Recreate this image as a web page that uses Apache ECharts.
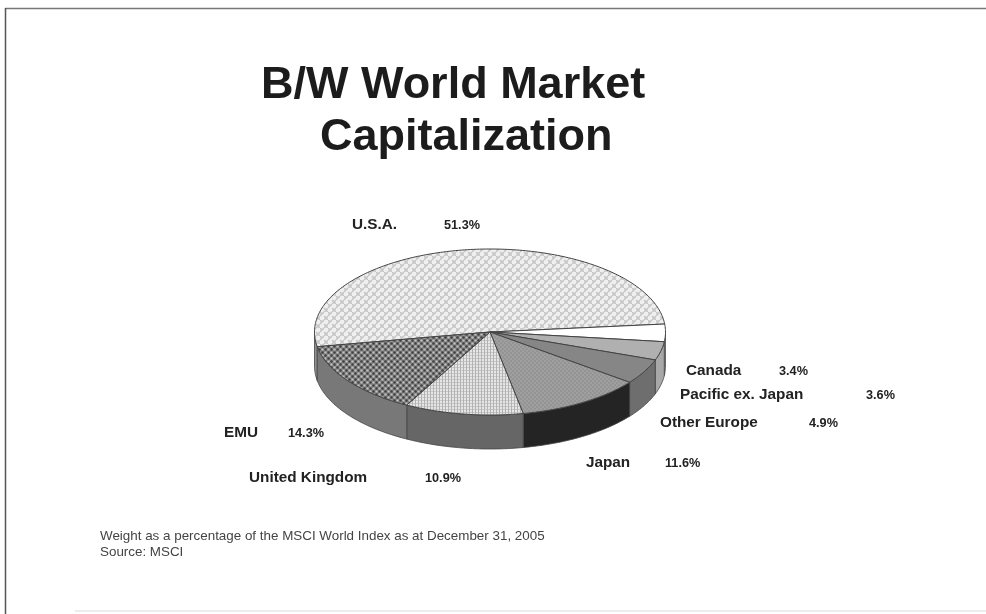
<!DOCTYPE html>
<html>
<head>
<meta charset="utf-8">
<style>html,body{margin:0;padding:0;background:#fff}#chart{width:986px;height:614px}</style>
<script src="https://cdn.jsdelivr.net/npm/echarts@6/dist/echarts.min.js"></script>
</head>
<body>
<div id="chart"></div>
<script>
// Market weights, clockwise from the U.S.A. slice
const names = ['U.S.A.', 'Canada', 'Pacific ex. Japan', 'Other Europe', 'Japan', 'United Kingdom', 'EMU'];
const weights = [51.3, 3.4, 3.6, 4.9, 11.6, 10.9, 14.3];
const titleLines = ['B/W World Market', 'Capitalization'];
const noteLines = ['Weight as a percentage of the MSCI World Index as at December 31, 2005', 'Source: MSCI'];

// Disc geometry: tilted ellipse plus rim depth, first slice starts left of the top
const disc = { cx: 490, cy: 332, rx: 175.5, ry: 83, depth: 34, startClock: -100.2 };

// Label anchors [name x, value x, y], in the same order as names
const labelAnchors = [
  [352, 444, 225], [686, 779, 371], [680, 866, 395], [660, 809, 423],
  [586, 665, 463], [249, 425, 478], [224, 288, 433]
];

function tile(size, draw) {
  const c = document.createElement('canvas');
  c.width = c.height = size;
  draw(c.getContext('2d'), size);
  return { image: c, repeat: 'repeat' };
}
function dot(g, x, y, r) {
  g.beginPath(); g.arc(x, y, r, 0, Math.PI * 2); g.fill();
}
const weave = tile(8, (g) => {
  g.fillStyle = '#efefef'; g.fillRect(0, 0, 8, 8);
  g.strokeStyle = '#c6c6c6'; g.lineWidth = 1.6;
  g.beginPath();
  g.moveTo(0, 4); g.lineTo(4, 0); g.moveTo(4, 8); g.lineTo(8, 4);
  g.moveTo(4, 4); g.lineTo(8, 8); g.moveTo(0, 0); g.lineTo(2, 2);
  g.stroke();
});
const fineGrid = tile(3, (g) => {
  g.fillStyle = '#e6e6e6'; g.fillRect(0, 0, 3, 3);
  g.fillStyle = '#b2b2b2'; g.fillRect(1, 0, 1, 3); g.fillRect(0, 1, 3, 0.6);
});
const softDots = tile(4, (g) => {
  g.fillStyle = '#949494'; g.fillRect(0, 0, 4, 4);
  g.fillStyle = '#a4a4a4'; dot(g, 1, 1, 0.9); dot(g, 3, 3, 0.9);
});
const checkDots = tile(6, (g) => {
  g.fillStyle = '#858585'; g.fillRect(0, 0, 6, 6);
  g.fillStyle = '#404040'; dot(g, 1.5, 1.5, 1.2); dot(g, 4.5, 4.5, 1.2);
  g.fillStyle = '#c4c4c4'; dot(g, 4.5, 1.5, 1.1); dot(g, 1.5, 4.5, 1.1);
});

const topFills = [weave, '#ffffff', '#b0b0b0', '#868686', softDots, fineGrid, checkDots];
const wallFills = ['#909090', '#e8e8e8', '#a8a8a8', '#6e6e6e', '#242424', '#666666', '#787878'];

const total = weights.reduce((a, b) => a + b, 0);
function spanOf(i) {
  let before = 0;
  for (let k = 0; k < i; k++) before += weights[k];
  const from = disc.startClock + before / total * 360;
  return [from, from + weights[i] / total * 360];
}
function rimPoint(clock, drop) {
  const t = clock * Math.PI / 180;
  return [disc.cx + disc.rx * Math.sin(t), disc.cy - disc.ry * Math.cos(t) + drop];
}
function arcPoints(from, to, drop) {
  const pts = [], n = Math.max(2, Math.ceil(Math.abs(to - from)));
  for (let k = 0; k <= n; k++) pts.push(rimPoint(from + (to - from) * k / n, drop));
  return pts;
}

function renderSlice(params, api) {
  const i = params.dataIndex;
  const [from, to] = spanOf(i);
  const children = [];
  // Only the front half of the rim (clock 90 to 270) is visible
  [[from, to], [from + 360, to + 360], [from - 360, to - 360]].forEach(([a, b]) => {
    const lo = Math.max(a, 90), hi = Math.min(b, 270);
    if (hi > lo) {
      children.push({
        type: 'polygon',
        shape: { points: arcPoints(lo, hi, 0).concat(arcPoints(hi, lo, disc.depth)) },
        style: { fill: wallFills[i], stroke: '#444444', lineWidth: 0.8 }
      });
    }
  });
  children.push({
    type: 'polygon',
    shape: { points: [[disc.cx, disc.cy]].concat(arcPoints(from, to, 0)) },
    style: { fill: topFills[i], stroke: '#444444', lineWidth: 1 }
  });
  return { type: 'group', children };
}

const labelGraphics = [];
names.forEach((n, i) => {
  const [nx, vx, y] = labelAnchors[i];
  labelGraphics.push({ type: 'text', x: nx, y, style: {
    text: n, font: 'bold 15.3px "Liberation Sans"', fill: '#222', verticalAlign: 'middle' } });
  labelGraphics.push({ type: 'text', x: vx, y, style: {
    text: weights[i].toFixed(1) + '%', font: 'bold 12.7px "Liberation Sans"', fill: '#222', verticalAlign: 'middle' } });
});
noteLines.forEach((t, i) => {
  labelGraphics.push({ type: 'text', x: 100, y: 536 + i * 16, style: {
    text: t, font: '13.4px "Liberation Sans"', fill: '#444', verticalAlign: 'middle' } });
});
// Slide frame: top and left rules with a faint bottom rule
[[5, 8.5, 986, 8.5, '#777'], [5.5, 8, 5.5, 614, '#555'], [75, 611, 986, 611, '#e6e6e6']].forEach(([x1, y1, x2, y2, c]) => {
  labelGraphics.push({ type: 'line', shape: { x1, y1, x2, y2 }, style: { stroke: c, lineWidth: 1.5 } });
});

const chart = echarts.init(document.getElementById('chart'), null, { renderer: 'canvas' });
chart.setOption({
  animation: false,
  backgroundColor: '#ffffff',
  title: [
    { text: titleLines[0], left: 256, top: 58, textStyle: { fontFamily: 'Liberation Sans', fontWeight: 'bold', fontSize: 45, color: '#1c1c1c' } },
    { text: titleLines[1], left: 315, top: 110, textStyle: { fontFamily: 'Liberation Sans', fontWeight: 'bold', fontSize: 45, color: '#1c1c1c' } }
  ],
  graphic: labelGraphics,
  series: [{
    type: 'custom',
    coordinateSystem: 'none',
    silent: true,
    renderItem: renderSlice,
    data: weights.map((v, i) => ({ name: names[i], value: v }))
  }]
});
</script>
</body>
</html>
